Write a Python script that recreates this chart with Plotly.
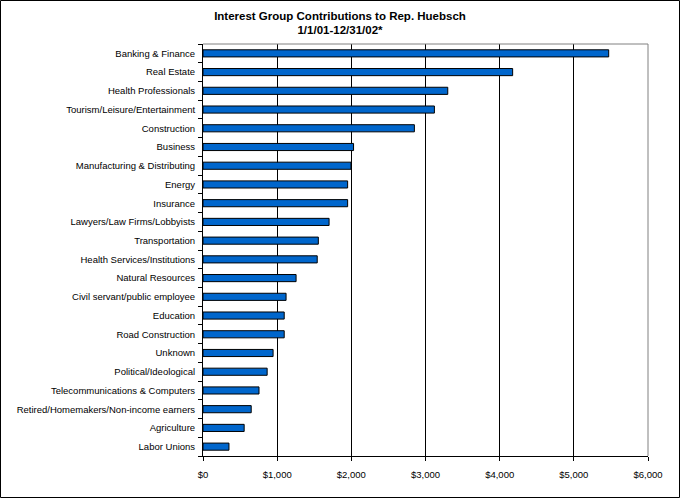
import plotly.graph_objects as go

# contribution totals by interest group
groups = [
    "Banking & Finance", "Real Estate", "Health Professionals",
    "Tourism/Leisure/Entertainment", "Construction", "Business",
    "Manufacturing & Distributing", "Energy", "Insurance",
    "Lawyers/Law Firms/Lobbyists", "Transportation",
    "Health Services/Institutions", "Natural Resources",
    "Civil servant/public employee", "Education", "Road Construction",
    "Unknown", "Political/Ideological", "Telecommunications & Computers",
    "Retired/Homemakers/Non-income earners", "Agriculture", "Labor Unions",
]
amounts = [5470, 4175, 3300, 3120, 2850, 2030, 1995, 1950, 1950, 1700, 1555,
           1540, 1255, 1120, 1095, 1095, 945, 865, 755, 650, 555, 350]
x_ticks = [0, 1000, 2000, 3000, 4000, 5000, 6000]
x_labels = ["$0", "$1,000", "$2,000", "$3,000", "$4,000", "$5,000", "$6,000"]

W, H = 680, 498
ml, mr, mt, mb = 203, 32, 44, 42

fig = go.Figure(go.Bar(
    x=amounts, y=groups, orientation="h",
    marker=dict(color="#0066CC", line=dict(color="black", width=1)),
))

fig.update_layout(
    width=W, height=H,
    margin=dict(l=ml, r=mr, t=mt, b=mb, pad=0),
    paper_bgcolor="white", plot_bgcolor="white",
    font=dict(family="Liberation Sans, Arial", size=9.5, color="black"),
    bargap=0.62,
    showlegend=False,
    title=dict(
        text="<b>Interest Group Contributions to Rep. Huebsch<br>1/1/01-12/31/02*</b>",
        x=0.5, xanchor="center", y=1 - 19.5 / H, yanchor="top",
        font=dict(size=11.5, family="Liberation Sans, Arial"),
    ),
    xaxis=dict(
        range=[0, 6000], tickvals=x_ticks, ticktext=x_labels,
        showgrid=True, gridcolor="black", gridwidth=1,
        showline=True, linecolor="black", linewidth=1,
        ticks="outside", ticklen=4, tickcolor="black", ticklabelstandoff=6,
        zeroline=False, fixedrange=True, automargin=False,
    ),
    yaxis=dict(
        categoryorder="array", categoryarray=groups[::-1],
        showgrid=False, showline=True, linecolor="black", linewidth=1,
        ticks="outside", ticklen=4, tickcolor="black", tickson="boundaries",
        ticklabelstandoff=5, zeroline=False, automargin=False,
    ),
)

# grey frame on top and right of plot area (Excel style)
fig.add_shape(type="line", xref="paper", yref="paper", x0=0, x1=1, y0=1, y1=1,
              line=dict(color="#808080", width=1), layer="above")
fig.add_shape(type="line", xref="paper", yref="paper", x0=1, x1=1, y0=0, y1=1,
              line=dict(color="#808080", width=1), layer="above")

# black border around the whole chart
pw, ph = W - ml - mr, H - mt - mb
fig.add_shape(type="rect", xref="paper", yref="paper",
              x0=(-ml + 0.5) / pw, x1=1 + (mr - 0.5) / pw,
              y0=(-mb + 0.5) / ph, y1=1 + (mt - 0.5) / ph,
              line=dict(color="black", width=1), layer="above")

fig.write_html("out.html", config={"displayModeBar": False},
               post_script="document.body.style.margin='0';")
